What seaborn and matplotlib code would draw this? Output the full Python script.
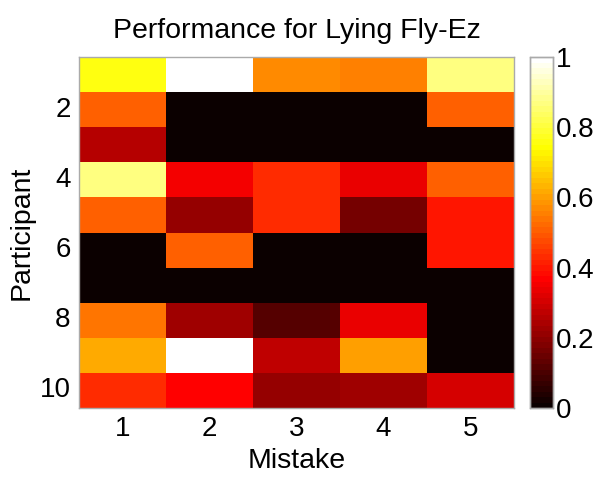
import numpy as np
import pandas as pd
import matplotlib
matplotlib.use("Agg")
import matplotlib.pyplot as plt
from matplotlib.colors import ListedColormap
import seaborn as sns

participants = [1, 2, 3, 4, 5, 6, 7, 8, 9, 10]
mistakes = [1, 2, 3, 4, 5]
m1 = [0.75, 0.51, 0.254, 0.873, 0.51, 0.0, 0.0, 0.54, 0.62, 0.43]
m2 = [1.00, 0.0, 0.0, 0.35, 0.206, 0.51, 0.0, 0.222, 1.00, 0.365]
m3 = [0.57, 0.0, 0.0, 0.43, 0.43, 0.0, 0.0, 0.111, 0.27, 0.206]
m4 = [0.556, 0.0, 0.0, 0.333, 0.159, 0.0, 0.0, 0.333, 0.60, 0.222]
m5 = [0.873, 0.51, 0.0, 0.51, 0.397, 0.40, 0.0, 0.0, 0.0, 0.30]

df = pd.DataFrame({1: m1, 2: m2, 3: m3, 4: m4, 5: m5}, index=participants)

# MATLAB-style 'hot' colormap with 64 levels
n = 64
nr = 24
r = np.concatenate([np.arange(1, nr + 1) / nr, np.ones(n - nr)])
g = np.concatenate([np.zeros(nr), np.arange(1, nr + 1) / nr, np.ones(n - 2 * nr)])
b = np.concatenate([np.zeros(2 * nr), np.arange(1, n - 2 * nr + 1) / (n - 2 * nr)])
hot = ListedColormap(np.column_stack([r, g, b]))

sns.set_style("ticks")
plt.rcParams['font.family'] = ['Liberation Sans', 'DejaVu Sans']
plt.rcParams['text.color'] = 'black'
plt.rcParams['axes.labelcolor'] = 'black'
plt.rcParams['xtick.color'] = 'black'
plt.rcParams['ytick.color'] = 'black'

fig = plt.figure(figsize=(5.99, 4.8), dpi=100)
ax = fig.add_axes([0.132, 0.15, 0.726, 0.731])
cax = fig.add_axes([0.885, 0.15, 0.038, 0.731])

sns.heatmap(df, ax=ax, cbar_ax=cax, cmap=hot, vmin=0, vmax=1,
            cbar_kws={'ticks': [0, 0.2, 0.4, 0.6, 0.8, 1.0]})

ax.set_xticks([i + 0.5 for i in range(5)])
ax.set_xticklabels([str(m) for m in mistakes], rotation=0)
ax.set_yticks([i + 0.5 for i in range(1, 10, 2)])
ax.set_yticklabels([str(p) for p in participants[1::2]], rotation=0)
ax.tick_params(axis='both', direction='in', length=4, width=0.6, color='#444444',
               labelsize=20, labelcolor='black', top=True, right=True,
               bottom=True, left=True, pad=6)
for s in ax.spines.values():
    s.set_visible(True)
    s.set_color('#aaaaaa')
    s.set_linewidth(1)
ax.set_xlabel('Mistake', fontsize=20.5, labelpad=4, color='black')
ax.set_ylabel('Participant', fontsize=20.5, labelpad=4, color='black')
ax.set_title('Performance for Lying Fly-Ez', fontsize=20.5, pad=14, color='black')

cax.set_yticklabels(['0', '0.2', '0.4', '0.6', '0.8', '1'])
cax.tick_params(direction='in', length=4, width=0.6, labelsize=20, labelcolor='black',
                left=True, right=True, pad=2)
for s in cax.spines.values():
    s.set_visible(True)
    s.set_color('#aaaaaa')
    s.set_linewidth(1)

fig.savefig('out.png', dpi=100)
